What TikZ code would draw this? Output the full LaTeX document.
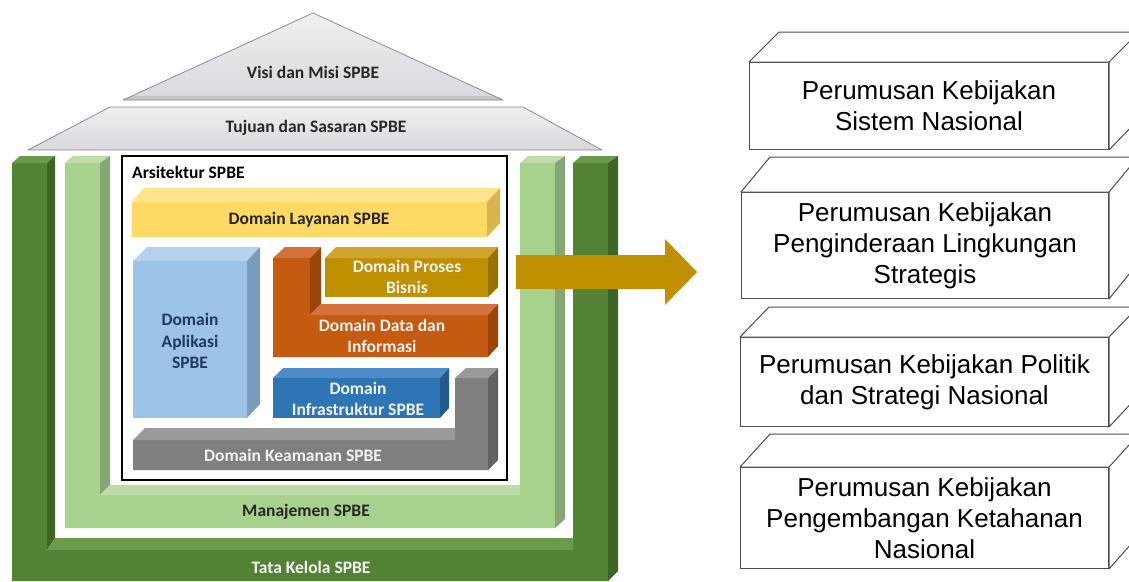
\documentclass[tikz,border=0pt]{standalone}
\usepackage{fontspec}
\setmainfont{Carlito}
\newfontfamily\arialf{Liberation Sans}
\definecolor{roofA}{HTML}{F0F0F2}
\definecolor{roofB}{HTML}{D8D8DD}
\definecolor{roofbevel}{HTML}{C4C4C9}
\definecolor{roofhi}{HTML}{EEEEF1}
\definecolor{roofline}{HTML}{8C8C8C}
\definecolor{txtdark}{HTML}{262626}
\definecolor{navy}{HTML}{1F3864}
\definecolor{ylF}{HTML}{FFD966}\definecolor{ylT}{HTML}{FFE48E}\definecolor{ylS}{HTML}{D9B54F}
\definecolor{lbF}{HTML}{9DC3E6}\definecolor{lbT}{HTML}{B4D2EE}\definecolor{lbS}{HTML}{7A9DBF}
\definecolor{orF}{HTML}{C55A11}\definecolor{orT}{HTML}{D5713A}\definecolor{orS}{HTML}{9C4509}
\definecolor{gdF}{HTML}{BF9000}\definecolor{gdT}{HTML}{CFA52E}\definecolor{gdS}{HTML}{977200}
\definecolor{blF}{HTML}{2E75B6}\definecolor{blT}{HTML}{4D8CC8}\definecolor{blS}{HTML}{235A8C}
\definecolor{gyF}{HTML}{7F7F7F}\definecolor{gyT}{HTML}{9A9A9A}\definecolor{gyS}{HTML}{626262}
\definecolor{dgF}{HTML}{548235}\definecolor{dgT}{HTML}{6B9A4D}\definecolor{dgS}{HTML}{3E6526}
\definecolor{lgF}{HTML}{A9D18E}\definecolor{lgT}{HTML}{BDDCA8}\definecolor{lgS}{HTML}{86A675}
\definecolor{arrowc}{HTML}{BF9000}
\definecolor{boxline}{HTML}{4D4D4D}
\definecolor{lighttxt}{HTML}{F2F2F2}
\begin{document}
\begin{tikzpicture}[x=1pt,y=-1pt,
  hl/.style={font=\bfseries\fontsize{17.5}{21.5}\selectfont, align=center, inner sep=0pt},
  rt/.style={font=\arialf\fontsize{26}{31}\selectfont, align=center, text=black},
  rbox/.style={draw=boxline, line width=1pt, fill=white, line join=round},
]
\useasboundingbox (0,0) rectangle (1129,581);
\clip (0,0) rectangle (1129,581);

% roof
\shade[top color=roofA, bottom color=roofB]
  (123,100) -- (313,13) -- (503,100) -- cycle;
\fill[roofbevel] (123,100) -- (132,96) -- (494,96) -- (503,100) -- cycle;
\draw[roofline, line width=0.8pt, line join=round] (123,100) -- (313,13) -- (503,100) -- cycle;
\shade[top color=roofA, bottom color=roofB]
  (110,107) -- (523,107) -- (602,150) -- (28,150) -- cycle;
\fill[roofhi] (110,107) -- (523,107) -- (532,112) -- (101,112) -- cycle;
\draw[roofline, line width=0.8pt, line join=round] (110,107) -- (523,107) -- (602,150) -- (28,150) -- cycle;
\node[hl, text=txtdark] (visi) at (313,72) {Visi dan Misi SPBE};
\node[hl, text=txtdark] (tujuan) at (316,128) {Tujuan dan Sasaran SPBE};

% dark green U (Tata Kelola)
\fill[dgF] (12,163) -- (47,163) -- (47,550) -- (573,550) -- (573,163) -- (608,163) -- (608,581) -- (12,581) -- cycle;
\fill[dgT] (12,163) -- (20,156) -- (55,156) -- (47,163) -- cycle;
\fill[dgS] (47,163) -- (55,156) -- (55,538) -- (47,550) -- cycle;
\fill[dgT] (47,550) -- (55,538) -- (573,538) -- (573,550) -- cycle;
\fill[dgT] (573,163) -- (581,156) -- (618,156) -- (608,163) -- cycle;
\fill[dgS] (608,163) -- (618,156) -- (618,571) -- (608,581) -- cycle;
\node[hl, text=lighttxt] (tata) at (311,567) {Tata Kelola SPBE};

% light green U (Manajemen)
\fill[lgF] (65,163) -- (100,163) -- (100,495) -- (520,495) -- (520,163) -- (555,163) -- (555,528) -- (65,528) -- cycle;
\fill[lgT] (65,163) -- (73,156) -- (110,156) -- (100,163) -- cycle;
\fill[lgS] (100,163) -- (110,156) -- (110,485) -- (100,495) -- cycle;
\fill[lgT] (100,495) -- (110,485) -- (520,485) -- (520,495) -- cycle;
\fill[lgT] (520,163) -- (528,156) -- (565,156) -- (555,163) -- cycle;
\fill[lgS] (555,163) -- (565,156) -- (565,519) -- (555,528) -- cycle;
\node[hl, text=txtdark] (manajemen) at (306,512) {Manajemen SPBE};

% architecture frame
\draw[line width=2.5pt, fill=white] (122,156) rectangle (507,480);
\node[hl, anchor=west, text=black] (arsi) at (132,172) {Arsitektur SPBE};

% Layanan
\fill[ylF] (132,202) rectangle (487,237);
\fill[ylT] (132,202) -- (144,188) -- (500,188) -- (487,202) -- cycle;
\fill[ylS] (487,202) -- (500,188) -- (500,223) -- (487,237) -- cycle;
\node[hl, text=txtdark] (layanan) at (309,220) {Domain Layanan SPBE};

% Aplikasi
\fill[lbF] (133,261) rectangle (247,418);
\fill[lbT] (133,261) -- (147,247) -- (260,247) -- (247,261) -- cycle;
\fill[lbS] (247,261) -- (260,247) -- (260,404) -- (247,418) -- cycle;
\node[hl, text=navy] (aplikasi) at (190,341) {Domain\\Aplikasi\\SPBE};

% Data dan Informasi
\fill[orF] (273,258) -- (310,258) -- (310,315) -- (488,315) -- (488,357) -- (273,357) -- cycle;
\fill[orT] (273,258) -- (285,247) -- (321,247) -- (310,258) -- cycle;
\fill[orS] (310,258) -- (321,247) -- (321,304) -- (310,315) -- cycle;
\fill[orT] (310,315) -- (321,304) -- (498,304) -- (488,315) -- cycle;
\fill[orS] (488,315) -- (498,304) -- (498,346) -- (488,357) -- cycle;
\node[hl, text=lighttxt] (data) at (382,336) {Domain Data dan\\Informasi};

% Proses Bisnis
\fill[gdF] (325,258) rectangle (488,297);
\fill[gdT] (325,258) -- (336,247) -- (498,247) -- (488,258) -- cycle;
\fill[gdS] (488,258) -- (498,247) -- (498,287) -- (488,297) -- cycle;
\node[hl, text=lighttxt] (proses) at (407,277) {Domain Proses\\Bisnis};

% Infrastruktur
\fill[blF] (273,378) rectangle (440,418);
\fill[blT] (273,378) -- (283,368) -- (449,368) -- (440,378) -- cycle;
\fill[blS] (440,378) -- (449,368) -- (449,408) -- (440,418) -- cycle;
\node[hl, text=lighttxt] (infra) at (358,399) {Domain\\Infrastruktur SPBE};

% Keamanan
\fill[gyF] (133,440) -- (455,440) -- (455,378) -- (488,378) -- (488,470) -- (133,470) -- cycle;
\fill[gyT] (133,440) -- (145,428) -- (455,428) -- (455,440) -- cycle;
\fill[gyT] (455,378) -- (466,368) -- (498,368) -- (488,378) -- cycle;
\fill[gyS] (488,378) -- (498,368) -- (498,460) -- (488,470) -- cycle;
\node[hl, text=lighttxt] (keamanan) at (293,455) {Domain Keamanan SPBE};

% big arrow
\fill[arrowc] (516,255) -- (665,255) -- (665,239) -- (697,272) -- (665,305) -- (665,289) -- (516,289) -- cycle;

% right boxes
\node[rbox, rt, minimum width=359pt, minimum height=87pt, anchor=north west] (b1) at (749,62)
  {Perumusan Kebijakan\\Sistem Nasional};
\draw[rbox] (b1.north west) -- ++(30,-30) -- ++(400,0) -- (b1.north east) -- cycle;
\draw[rbox] (b1.north east) -- ++(30,-30) -- ++(0,87) -- (b1.south east) -- cycle;

\node[rbox, rt, minimum width=367pt, minimum height=106pt, anchor=north west] (b2) at (741,192)
  {Perumusan Kebijakan\\Penginderaan Lingkungan\\Strategis};
\draw[rbox] (b2.north west) -- ++(29,-35) -- ++(400,0) -- (b2.north east) -- cycle;
\draw[rbox] (b2.north east) -- ++(29,-35) -- ++(0,106) -- (b2.south east) -- cycle;

\node[rbox, rt, minimum width=368pt, minimum height=89pt, anchor=north west] (b3) at (740,337)
  {Perumusan Kebijakan Politik\\dan Strategi Nasional};
\draw[rbox] (b3.north west) -- ++(29,-30) -- ++(400,0) -- (b3.north east) -- cycle;
\draw[rbox] (b3.north east) -- ++(29,-30) -- ++(0,89) -- (b3.south east) -- cycle;

\node[rbox, rt, minimum width=368pt, minimum height=101pt, anchor=north west] (b4) at (740,467)
  {Perumusan Kebijakan\\Pengembangan Ketahanan\\Nasional};
\draw[rbox] (b4.north west) -- ++(30,-33) -- ++(400,0) -- (b4.north east) -- cycle;
\draw[rbox] (b4.north east) -- ++(30,-33) -- ++(0,101) -- (b4.south east) -- cycle;
\end{tikzpicture}
\end{document}
